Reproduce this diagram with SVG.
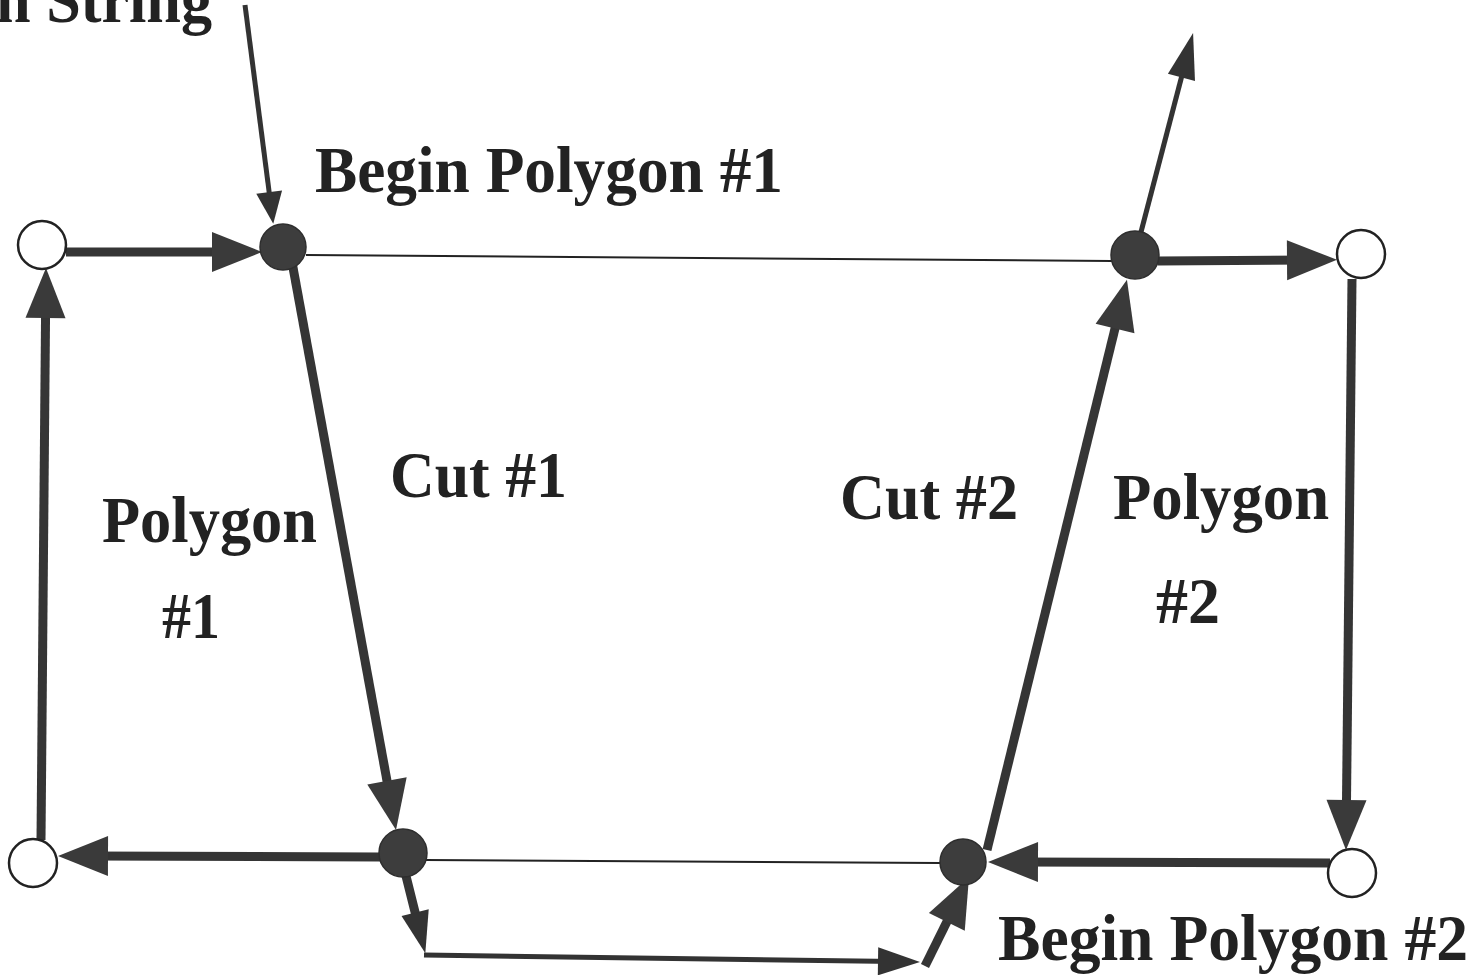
<svg xmlns="http://www.w3.org/2000/svg" width="1476" height="975" viewBox="0 0 1476 975">
  <style>
    .lbl { font-family: "Liberation Serif", "Times New Roman", serif; font-weight: bold; font-size: 66px; fill: #222; }
    .thick { stroke: #353535; stroke-width: 9; fill: none; }
    .mid { stroke: #333; stroke-width: 5; fill: none; }
    .thin { stroke: #222; stroke-width: 2; fill: none; }
    .vtx { fill: #3d3d3d; stroke: #2e2e2e; stroke-width: 1.5; }
    .sel { fill: #fff; stroke: #222; stroke-width: 2.5; }
  </style>
  <defs>
    <marker id="ah" markerUnits="userSpaceOnUse" markerWidth="50" markerHeight="40" refX="20" refY="20" orient="auto" overflow="visible">
      <path d="M0,0 L50,20 L0,40 Z" fill="#3a3a3a"/>
    </marker>
    <marker id="am" markerUnits="userSpaceOnUse" markerWidth="42" markerHeight="28" refX="18" refY="14" orient="auto" overflow="visible">
      <path d="M0,0 L42,14 L0,28 Z" fill="#333"/>
    </marker>
    <marker id="al" markerUnits="userSpaceOnUse" markerWidth="46" markerHeight="28" refX="18" refY="14" orient="auto" overflow="visible">
      <path d="M0,0 L46,14 L0,28 Z" fill="#333"/>
    </marker>
    <marker id="as" markerUnits="userSpaceOnUse" markerWidth="32" markerHeight="26" refX="12" refY="13" orient="auto" overflow="visible">
      <path d="M0,0 L32,13 L0,26 Z" fill="#333"/>
    </marker>
  </defs>

  <rect width="1476" height="975" fill="#fff"/>

  <g id="connectors">
    <!-- segments between the two cut vertices -->
    <line class="thin" x1="306" y1="255" x2="1112" y2="261"/>
    <line class="thin" x1="425" y1="860" x2="940" y2="863"/>

    <!-- entry of the string -->
    <line class="mid" x1="245" y1="5" x2="270.7" y2="204" marker-end="url(#as)"/>
    <!-- polygon #1 loop -->
    <line class="thick" x1="66" y1="252" x2="232" y2="252" marker-end="url(#ah)"/>
    <line class="thick" x1="292" y1="262" x2="390.6" y2="800.5" marker-end="url(#ah)"/>
    <line class="thick" x1="380" y1="857" x2="88" y2="856" marker-end="url(#ah)"/>
    <line class="thick" x1="41" y1="840" x2="45.7" y2="298" marker-end="url(#ah)"/>
    <!-- detour to polygon #2 -->
    <line class="thick" x1="405" y1="872" x2="419.5" y2="930" marker-end="url(#am)"/>
    <line class="mid" x1="424" y1="955" x2="896" y2="961.6" marker-end="url(#am)"/>
    <line class="thick" x1="925" y1="966" x2="955.7" y2="904" marker-end="url(#ah)"/>
    <!-- polygon #2 loop -->
    <line class="thick" x1="1330" y1="863" x2="1018" y2="862" marker-end="url(#ah)"/>
    <line class="thick" x1="987" y1="850" x2="1119.8" y2="309" marker-end="url(#ah)"/>
    <line class="thick" x1="1158" y1="261" x2="1307" y2="260" marker-end="url(#ah)"/>
    <line class="thick" x1="1352" y1="279" x2="1346.3" y2="820" marker-end="url(#ah)"/>
    <!-- exit of the string -->
    <line class="mid" x1="1141" y1="232" x2="1186" y2="60" marker-end="url(#al)"/>
  </g>

  <g id="v-begin1"><circle class="vtx" cx="283" cy="247" r="23"/></g>
  <g id="v-top-right"><circle class="vtx" cx="1135" cy="255" r="24"/></g>
  <g id="v-cut1-bottom"><circle class="vtx" cx="403" cy="853" r="24"/></g>
  <g id="v-begin2"><circle class="vtx" cx="963" cy="862" r="23"/></g>

  <g id="p-top-left"><circle class="sel" cx="42" cy="245" r="24"/></g>
  <g id="p-top-right"><circle class="sel" cx="1361" cy="254" r="24"/></g>
  <g id="p-bottom-left"><circle class="sel" cx="33" cy="863" r="24"/></g>
  <g id="p-bottom-right"><circle class="sel" cx="1352" cy="873" r="24"/></g>

  <g id="labels">
    <text class="lbl" x="-4" y="22" textLength="216" lengthAdjust="spacingAndGlyphs">n String</text>
    <text class="lbl" x="315" y="192" textLength="468" lengthAdjust="spacingAndGlyphs">Begin Polygon #1</text>
    <text class="lbl" x="390" y="497" textLength="177" lengthAdjust="spacingAndGlyphs">Cut #1</text>
    <text class="lbl" x="102" y="542" textLength="215" lengthAdjust="spacingAndGlyphs">Polygon</text>
    <text class="lbl" x="162" y="638" textLength="58" lengthAdjust="spacingAndGlyphs">#1</text>
    <text class="lbl" x="840" y="519" textLength="178" lengthAdjust="spacingAndGlyphs">Cut #2</text>
    <text class="lbl" x="1113" y="519" textLength="216" lengthAdjust="spacingAndGlyphs">Polygon</text>
    <text class="lbl" x="1156" y="623" textLength="64" lengthAdjust="spacingAndGlyphs">#2</text>
    <text class="lbl" x="998" y="960" textLength="470" lengthAdjust="spacingAndGlyphs">Begin Polygon #2</text>
  </g>
</svg>
